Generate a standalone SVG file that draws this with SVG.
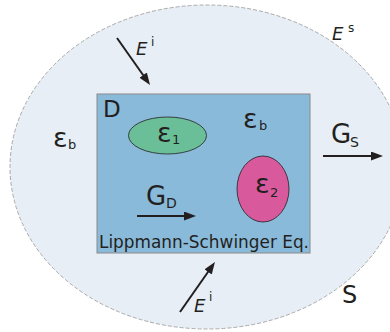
<svg xmlns="http://www.w3.org/2000/svg" width="390" height="332" viewBox="0 0 390 332">
<style>
text{font-family:"DejaVu Sans","Liberation Sans",sans-serif;fill:#231f20}
.it{font-style:italic}
.eps{font-size:27px}
.sub{font-size:13px}
.sup{font-size:12px}
.arr{stroke:#231f20;stroke-width:2;fill:none;marker-end:url(#ah)}
</style>
<defs>
<marker id="ah" markerUnits="userSpaceOnUse" markerWidth="13" markerHeight="10" refX="6" refY="4.5" orient="auto">
<path d="M0,0 L12,4.5 L0,9 Z" fill="#231f20"/>
</marker>
</defs>
<g id="region-S">
<ellipse cx="207" cy="167" rx="197" ry="162" fill="#e7eef5" stroke="#a9a9a9" stroke-width="1" stroke-dasharray="4,2"/>
<text x="342" y="303" font-size="24">S</text>
<text x="332" y="40" font-size="18" class="it">E</text><text x="348" y="32" class="sup">s</text>
<text x="53" y="147" class="eps">ε</text><text x="68" y="149" class="sub">b</text>
</g>
<g id="domain-D">
<rect x="97" y="94" width="213" height="159" fill="#8abada" stroke="#8a8a8a" stroke-width="1"/>
<text x="103" y="117" font-size="23">D</text>
<text x="243" y="128" class="eps">ε</text><text x="259" y="130" class="sub">b</text>
<text x="99" y="248" font-size="17" textLength="210" lengthAdjust="spacingAndGlyphs">Lippmann-Schwinger Eq.</text>
</g>
<g id="scatterer-1">
<ellipse cx="167.5" cy="135.5" rx="39" ry="18.5" fill="#6bbf98" stroke="#231f20" stroke-width="0.8"/>
<text x="157" y="142" class="eps">ε</text><text x="172" y="144" class="sub">1</text>
</g>
<g id="scatterer-2">
<ellipse cx="263" cy="189" rx="26" ry="33" fill="#d85a9c" stroke="#231f20" stroke-width="0.8"/>
<text x="255" y="193" class="eps">ε</text><text x="270" y="197" class="sub">2</text>
</g>
<g id="connectors">
<line class="arr" x1="117" y1="38" x2="146.6" y2="80"/>
<line class="arr" x1="180" y1="312" x2="211.5" y2="267"/>
<line class="arr" x1="323" y1="156" x2="377" y2="156"/>
<line class="arr" x1="137" y1="216" x2="190" y2="216"/>
</g>
<g id="labels">
<text x="136" y="55" font-size="18" class="it">E</text><text x="151" y="46" class="sup">i</text>
<text x="194" y="312" font-size="18" class="it">E</text><text x="209" y="301" class="sup">i</text>
<text x="331" y="143" font-size="26">G</text><text x="350" y="147" font-size="14">S</text>
<text x="146" y="205" font-size="26">G</text><text x="166" y="208" font-size="14">D</text>
</g>
</svg>
